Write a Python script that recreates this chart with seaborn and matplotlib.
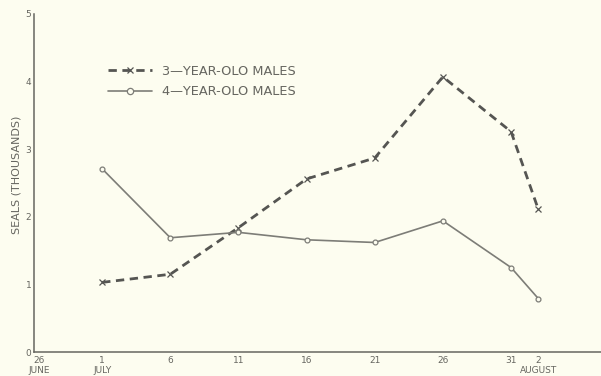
import matplotlib
matplotlib.use("Agg")
import matplotlib.pyplot as plt
import matplotlib.transforms as mtransforms
from matplotlib.lines import Line2D
import seaborn as sns
import pandas as pd

# Survey dates, counted in days from 26 June
days = [5, 10, 15, 20, 25, 30, 35, 37]
tick_days = [0, 5, 10, 15, 20, 25, 30, 35, 37]
tick_labels = ["26\nJUNE", "1\nJULY", "6", "11", "16", "21", "26", "31", "2\nAUGUST"]

# Seals counted (thousands)
males_3yr = [1.03, 1.15, 1.84, 2.56, 2.87, 4.07, 3.26, 2.11]
males_4yr = [2.71, 1.69, 1.77, 1.66, 1.62, 1.94, 1.25, 0.79]

label_3yr = "3—YEAR-OLO MALES"
label_4yr = "4—YEAR-OLO MALES"

bg = "#fdfdf0"
ink = "#666660"
c3 = "#555552"
c4 = "#7d7d77"

sns.set_style("white")
plt.rcParams["font.family"] = ["DejaVu Sans"]

df3 = pd.DataFrame({"day": days, "seals": males_3yr})
df4 = pd.DataFrame({"day": days, "seals": males_4yr})

fig = plt.figure(figsize=(6.01, 3.76), dpi=100, facecolor=bg)
ax = fig.add_axes([34 / 601, 1 - 352 / 376, 1 - 34 / 601, (352 - 14) / 376])
ax.set_facecolor(bg)

sns.lineplot(data=df3, x="day", y="seals", ax=ax, color=c3, lw=2.0,
             marker="x", markersize=4.5, markeredgewidth=0.9,
             markeredgecolor=c3)
ax.lines[-1].set_dashes((3, 2))
sns.lineplot(data=df4, x="day", y="seals", ax=ax, color=c4, lw=1.2,
             marker="o", markersize=3.5, markeredgewidth=0.9,
             markerfacecolor=bg, markeredgecolor=c4)

ax.set_xlim(0, 41.6)
ax.set_ylim(0, 5)
ax.set_xticks(tick_days)
ax.set_xticklabels(tick_labels, fontsize=6.5, color=ink, linespacing=1.15)
ax.set_yticks(range(0, 6))
ax.set_yticklabels([str(v) for v in range(0, 6)], fontsize=6.5, color=ink)
ax.tick_params(direction="in", length=5, width=0.9, color=ink)
ax.tick_params(axis="x", pad=3)
ax.tick_params(axis="y", pad=2)

# nudge the first date label clear of the "0" on the value axis
first = ax.get_xticklabels()[0]
first.set_transform(first.get_transform()
                    + mtransforms.ScaledTranslation(5 / 100, 0, fig.dpi_scale_trans))

ax.set_xlabel("")
ax.set_ylabel("SEALS (THOUSANDS)", fontsize=8, color=ink)
ax.yaxis.set_label_coords(-12.5 / 567, (352 - 175) / 338)

for side in ("top", "right"):
    ax.spines[side].set_visible(False)
for side in ("left", "bottom"):
    ax.spines[side].set_color(ink)
    ax.spines[side].set_linewidth(1.1)

handles = [
    Line2D([], [], color=c3, lw=2.0, dashes=(3, 2), marker="x",
           markersize=4.5, markeredgewidth=0.9),
    Line2D([], [], color=c4, lw=1.2, marker="o", markersize=4.5,
           markerfacecolor=bg, markeredgewidth=0.9),
]
leg = ax.legend(
    handles, [label_3yr, label_4yr], loc="upper left", numpoints=1,
    bbox_to_anchor=(108 / 601, 1 - 65 / 376), bbox_transform=fig.transFigure,
    frameon=False, fontsize=9.3, handlelength=3.4, handletextpad=0.8,
    labelspacing=0.55, borderpad=0, borderaxespad=0,
)
for t in leg.get_texts():
    t.set_color(ink)

fig.savefig("out.png", dpi=100, facecolor=bg)
